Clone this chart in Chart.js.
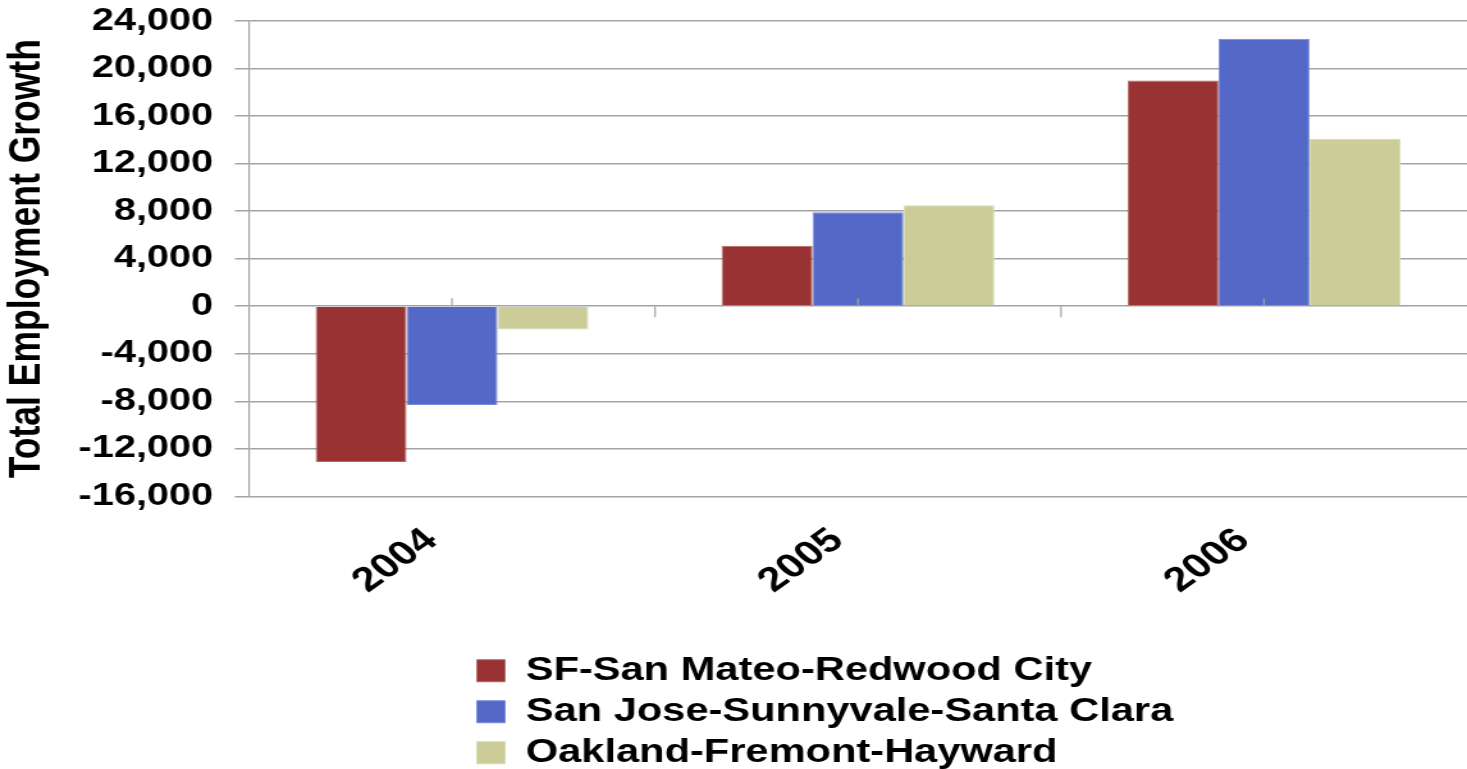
<!DOCTYPE html>
<html>
<head>
<meta charset="utf-8">
<script src="https://cdn.jsdelivr.net/npm/chart.js@4.4.1/dist/chart.umd.min.js"></script>
<style>
  html, body { margin: 0; padding: 0; background: #fff; overflow: hidden; }
  /* the reference is a horizontally stretched export, so draw narrow and stretch */
  #wrap { width: 1146px; height: 769px; transform: scaleX(1.2801); transform-origin: 0 0; }
</style>
</head>
<body>
<div id="wrap"><canvas id="chart"></canvas></div>
<script>
const years = ["2004", "2005", "2006"];
const sfSanMateo = [-13100, 5100, 19000];
const sanJose = [-8300, 7900, 22500];
const oakland = [-1950, 8500, 14100];
const seriesLabels = ["SF-San Mateo-Redwood City", "San Jose-Sunnyvale-Santa Clara", "Oakland-Fremont-Hayward"];
const seriesColors = ["#993333", "#5468c8", "#cccc99"];
const edgeColors = ["#b06a6a", "#7a8ad6", "#dadab4"];
const yMin = -16000;
const yMax = 24000;
const yStep = 4000;
const yTitle = "Total Employment Growth";

const FONT = '"Liberation Sans", Arial, sans-serif';
const GRID = "#a3a3a3";

// small tick marks on the zero line: up at each category, down between categories
const zeroAxisTicks = {
  id: "zeroAxisTicks",
  afterDatasetsDraw(chart) {
    const { ctx } = chart;
    const x = chart.scales.x;
    const y0 = chart.scales.y.getPixelForValue(0);
    ctx.save();
    ctx.strokeStyle = GRID;
    ctx.lineWidth = 1.2;
    ctx.beginPath();
    x.ticks.forEach((t, i) => {
      const cx = x.getPixelForTick(i);
      ctx.moveTo(cx, y0);
      ctx.lineTo(cx, y0 - 8);
      if (i > 0) {
        const bx = (cx + x.getPixelForTick(i - 1)) / 2;
        ctx.moveTo(bx, y0);
        ctx.lineTo(bx, y0 + 11);
      }
    });
    ctx.stroke();
    ctx.restore();
  },
};

// one legend entry per row, left aligned under the plot
const legendRows = {
  id: "legendRows",
  afterLayout(chart, args, opts) {
    const lg = chart.legend;
    lg.left = opts.left;
    lg.right = opts.left + opts.width;
    lg.top = opts.top;
    lg.bottom = opts.top + opts.height;
  },
};

const datasets = [sfSanMateo, sanJose, oakland].map((data, i) => ({
  label: seriesLabels[i],
  data,
  backgroundColor: seriesColors[i],
  borderColor: edgeColors[i],
  borderWidth: 1,
  barPercentage: 1,
  categoryPercentage: 0.672,
}));

new Chart(document.getElementById("chart"), {
  type: "bar",
  data: { labels: years, datasets },
  options: {
    responsive: true,
    maintainAspectRatio: false,
    animation: false,
    layout: { padding: { top: 21, left: 0, right: 0, bottom: 0 } },
    plugins: {
      tooltip: { enabled: false },
      legend: {
        position: "bottom",
        align: "start",
        maxHeight: 100,
        labels: {
          color: "#000",
          font: { family: FONT, size: 32.5, weight: "bold" },
          boxWidth: 22,
          boxHeight: 22,
          padding: 8.5,
        },
      },
      legendRows: { left: 364, width: 700, top: 646, height: 130 },
    },
    scales: {
      x: {
        ticks: {
          color: "#000",
          font: { family: FONT, size: 34, weight: "bold" },
          minRotation: 42,
          maxRotation: 42,
          padding: 24,
          labelOffset: -16,
        },
        grid: { display: false, drawTicks: false },
        border: { display: false },
        afterFit(scale) { scale.height = 180.6; },
      },
      y: {
        min: yMin,
        max: yMax,
        ticks: {
          stepSize: yStep,
          color: "#000",
          font: { family: FONT, size: 31, weight: "bold" },
          padding: 17,
          callback: (v) => v.toLocaleString("en-US"),
        },
        grid: { color: GRID, lineWidth: 1.5, tickLength: 11 },
        border: { display: true, color: GRID, width: 1.2 },
        title: {
          display: true,
          text: yTitle,
          color: "#000",
          font: { family: FONT, size: 35.5, weight: "bold" },
          padding: { top: 0, bottom: 0 },
        },
        afterFit(scale) {
          scale.width = 194.5;
          scale.paddingTop = 0;
          scale.paddingBottom = 0;
        },
      },
    },
  },
  plugins: [zeroAxisTicks, legendRows],
});
</script>
</body>
</html>
